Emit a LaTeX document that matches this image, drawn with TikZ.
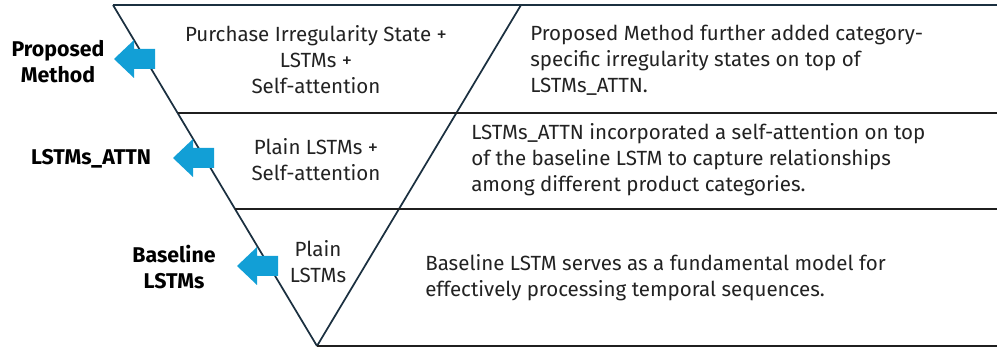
\documentclass[tikz,border=0pt]{standalone}
\usepackage{fontspec}
\setmainfont{Fira Sans}
\definecolor{navy}{HTML}{1B3040}
\definecolor{ink}{HTML}{222222}
\definecolor{arrowblue}{HTML}{129FD6}
\begin{document}
\begin{tikzpicture}[x=0.75pt,y=-0.75pt,
  frame/.style={draw=navy,line width=1.3pt},
  rule/.style={draw=ink!90!black,line width=1.3pt},
  body/.style={text=ink,font=\fontsize{15.4pt}{19.5pt}\selectfont,inner sep=0pt},
  mid/.style={body,align=center},
  side/.style={body,align=left,anchor=west},
  tag/.style={text=black,font=\fontsize{16pt}{19.5pt}\selectfont\bfseries,align=center,inner sep=0pt},
  larrow/.pic={\fill[arrowblue] (0,0) -- (20,-19) -- (20,-10) -- (41,-10) -- (41,10) -- (20,10) -- (20,19) -- cycle;}]
\useasboundingbox (0,0) rectangle (997,348);
\coordinate (A) at (113,5);
\coordinate (B) at (521,5);
\coordinate (C) at (317,346);
\coordinate (R0) at (997,5);
\coordinate (L1) at (177.6,113);
\coordinate (R1) at (997,113);
\coordinate (L2) at (235,209);
\coordinate (R2) at (997,209);
\coordinate (R3) at (997,346);
% triangle and rows
\draw[frame] (A) -- (R0);
\draw[frame] (A) -- (C);
\draw[frame] (B) -- (C);
\draw[rule] (C) -- (R3);
\draw[rule] (L1) -- (R1);
\draw[rule] (L2) -- (R2);
% arrows
\pic at (114,59) {larrow};
\pic at (173,158) {larrow};
\pic at (237,266) {larrow};
% triangle texts
\node[mid] (t1) at (316,60) {Purchase Irregularity State +\\LSTMs +\\Self-attention};
\node[mid] (t2) at (316,160) {Plain LSTMs +\\Self-attention};
\node[mid] (t3) at (318,262) {Plain\\LSTMs};
% right texts
\node[side] (d1) at (530,60) {Proposed Method further added category-\\specific irregularity states on top of\\LSTMs\_ATTN.};
\node[side] (d2) at (471,160) {LSTMs\_ATTN incorporated a self-attention on top\\of the baseline LSTM to capture relationships\\among different product categories.};
\node[side] (d3) at (425,278) {Baseline LSTM serves as a fundamental model for\\effectively processing temporal sequences.};
% left labels
\node[tag] (g1) at (58,62) {Proposed\\Method};
\node[tag] (g2) at (91,159) {LSTMs\_ATTN};
\node[tag] (g3) at (174,267) {Baseline\\LSTMs};
\end{tikzpicture}
\end{document}
